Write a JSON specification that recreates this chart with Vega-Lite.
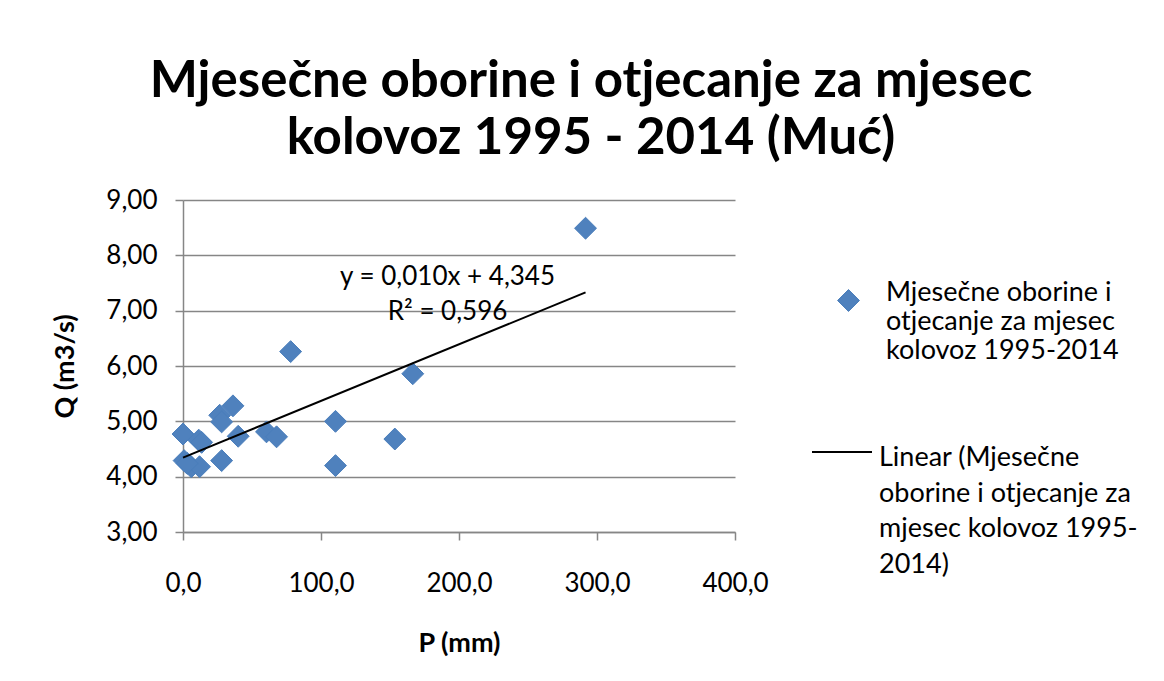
{
  "$schema": "https://vega.github.io/schema/vega-lite/v6.json",
  "autosize": "none",
  "width": 552,
  "height": 332,
  "padding": {"left": 183, "top": 200, "right": 429, "bottom": 149},
  "background": "white",
  "config": {
    "view": {"stroke": null},
    "font": "Lato",
    "locale": {"number": {"decimal": ",", "thousands": ".", "grouping": [3], "currency": ["", " €"]}}
  },
  "title": {
    "text": ["Mjesečne oborine i otjecanje za mjesec", "kolovoz 1995 - 2014 (Muć)"],
    "font": "Lato",
    "fontSize": 51,
    "fontWeight": "bold",
    "lineHeight": 57,
    "color": "black",
    "anchor": "middle",
    "frame": "group",
    "dx": 132,
    "offset": 22
  },
  "resolve": {"scale": {"stroke": "independent"}, "legend": {"stroke": "independent"}},
  "datasets": {
    "points": [
      {"P": 291.7, "Q": 8.49, "series": "Mjesečne oborine i|otjecanje za mjesec|kolovoz 1995-2014"},
      {"P": 78.0, "Q": 6.26, "series": "Mjesečne oborine i|otjecanje za mjesec|kolovoz 1995-2014"},
      {"P": 166.5, "Q": 5.86, "series": "Mjesečne oborine i|otjecanje za mjesec|kolovoz 1995-2014"},
      {"P": 36.2, "Q": 5.28, "series": "Mjesečne oborine i|otjecanje za mjesec|kolovoz 1995-2014"},
      {"P": 26.6, "Q": 5.11, "series": "Mjesečne oborine i|otjecanje za mjesec|kolovoz 1995-2014"},
      {"P": 28.0, "Q": 4.99, "series": "Mjesečne oborine i|otjecanje za mjesec|kolovoz 1995-2014"},
      {"P": 0.0, "Q": 4.77, "series": "Mjesečne oborine i|otjecanje za mjesec|kolovoz 1995-2014"},
      {"P": 11.4, "Q": 4.66, "series": "Mjesečne oborine i|otjecanje za mjesec|kolovoz 1995-2014"},
      {"P": 13.5, "Q": 4.62, "series": "Mjesečne oborine i|otjecanje za mjesec|kolovoz 1995-2014"},
      {"P": 40.0, "Q": 4.73, "series": "Mjesečne oborine i|otjecanje za mjesec|kolovoz 1995-2014"},
      {"P": 60.5, "Q": 4.81, "series": "Mjesečne oborine i|otjecanje za mjesec|kolovoz 1995-2014"},
      {"P": 67.8, "Q": 4.72, "series": "Mjesečne oborine i|otjecanje za mjesec|kolovoz 1995-2014"},
      {"P": 110.5, "Q": 5.0, "series": "Mjesečne oborine i|otjecanje za mjesec|kolovoz 1995-2014"},
      {"P": 153.5, "Q": 4.68, "series": "Mjesečne oborine i|otjecanje za mjesec|kolovoz 1995-2014"},
      {"P": 0.8, "Q": 4.29, "series": "Mjesečne oborine i|otjecanje za mjesec|kolovoz 1995-2014"},
      {"P": 6.0, "Q": 4.18, "series": "Mjesečne oborine i|otjecanje za mjesec|kolovoz 1995-2014"},
      {"P": 12.0, "Q": 4.18, "series": "Mjesečne oborine i|otjecanje za mjesec|kolovoz 1995-2014"},
      {"P": 28.0, "Q": 4.29, "series": "Mjesečne oborine i|otjecanje za mjesec|kolovoz 1995-2014"},
      {"P": 110.5, "Q": 4.2, "series": "Mjesečne oborine i|otjecanje za mjesec|kolovoz 1995-2014"},
      {"P": 3.0, "Q": 4.24, "series": "Mjesečne oborine i|otjecanje za mjesec|kolovoz 1995-2014"}
    ],
    "trend": [
      {"P": 0.0, "Q": 4.345, "series": "Linear (Mjesečne|oborine i otjecanje za|mjesec kolovoz 1995-|2014)"},
      {"P": 291.7, "Q": 7.33, "series": "Linear (Mjesečne|oborine i otjecanje za|mjesec kolovoz 1995-|2014)"}
    ],
    "notes": [
      {"P": 191.7, "Q": 7.6, "label": "y = 0,010x + 4,345"},
      {"P": 191.7, "Q": 6.97, "label": "R² = 0,596"}
    ]
  },
  "layer": [
    {
      "data": {"name": "points"},
      "mark": {"type": "point", "shape": "diamond", "filled": true, "fill": "#4F81BD", "size": 480, "opacity": 1, "fillOpacity": 1, "strokeWidth": 1},
      "encoding": {
        "x": {
          "field": "P", "type": "quantitative",
          "scale": {"domain": [0, 400], "nice": false, "zero": false},
          "axis": {
            "values": [0, 100, 200, 300, 400],
            "format": ".1f",
            "grid": false,
            "labelFlush": false,
            "domainColor": "#868686",
            "domainWidth": 1.5,
            "tickColor": "#868686",
            "tickWidth": 1.5,
            "tickSize": 8,
            "labelFont": "Lato",
            "labelFontSize": 26,
            "labelColor": "black",
            "labelPadding": 30,
            "title": "P (mm)",
            "titleFont": "Lato",
            "titleFontSize": 27,
            "titleFontWeight": "bold",
            "titleColor": "black",
            "titlePadding": 34
          }
        },
        "y": {
          "field": "Q", "type": "quantitative",
          "scale": {"domain": [3, 9], "nice": false, "zero": false},
          "axis": {
            "values": [3, 4, 5, 6, 7, 8, 9],
            "format": ".2f",
            "grid": true,
            "labelFlush": false,
            "gridColor": "#868686",
            "gridWidth": 1.5,
            "domainColor": "#868686",
            "domainWidth": 1.5,
            "tickColor": "#868686",
            "tickWidth": 1.5,
            "tickSize": 8,
            "labelFont": "Lato",
            "labelFontSize": 26,
            "labelColor": "black",
            "labelPadding": 18,
            "title": "Q (m3/s)",
            "titleFont": "Lato",
            "titleFontSize": 27,
            "titleFontWeight": "bold",
            "titleColor": "black",
            "titlePadding": 26
          }
        },
        "stroke": {
          "field": "series", "type": "nominal",
          "scale": {"range": ["#4a7ebb"]},
          "legend": {
            "title": null,
            "orient": "none",
            "legendX": 652,
            "legendY": 87,
            "symbolType": "diamond",
            "symbolSize": 480,
            "symbolOpacity": 1,
            "symbolFillColor": "#4F81BD",
            "symbolStrokeWidth": 1,
            "labelFont": "Lato",
            "labelFontSize": 27,
            "labelColor": "black",
            "labelLimit": 0,
            "labelOffset": 24,
            "labelBaseline": "alphabetic",
            "labelExpr": "split(datum.label, '|')",
            "encode": {"labels": {"enter": {"dy": {"value": 10}, "lineHeight": {"value": 34.5}}, "update": {"dy": {"value": 10}, "lineHeight": {"value": 34.5}}}, "symbols": {"update": {"fill": {"value": "#4F81BD"}, "fillOpacity": {"value": 1}}}}
          }
        }
      }
    },
    {
      "data": {"name": "trend"},
      "mark": {"type": "line", "strokeWidth": 2},
      "encoding": {
        "x": {"field": "P", "type": "quantitative"},
        "y": {"field": "Q", "type": "quantitative"},
        "stroke": {
          "field": "series", "type": "nominal",
          "scale": {"range": ["black"]},
          "legend": {
            "title": null,
            "orient": "none",
            "legendX": 628,
            "legendY": 221,
            "symbolType": "stroke",
            "symbolSize": 3600,
            "symbolStrokeWidth": 2,
            "labelFont": "Lato",
            "labelFontSize": 27,
            "labelColor": "black",
            "labelLimit": 0,
            "labelOffset": 6,
            "labelBaseline": "alphabetic",
            "labelExpr": "split(datum.label, '|')",
            "encode": {"labels": {"enter": {"dy": {"value": 14}, "lineHeight": {"value": 35.5}}, "update": {"dy": {"value": 14}, "lineHeight": {"value": 35.5}}}}
          }
        }
      }
    },
    {
      "data": {"name": "notes"},
      "mark": {"type": "text", "font": "Lato", "fontSize": 26, "color": "black", "align": "center", "baseline": "middle"},
      "encoding": {
        "x": {"field": "P", "type": "quantitative"},
        "y": {"field": "Q", "type": "quantitative"},
        "text": {"field": "label"}
      }
    }
  ]
}
